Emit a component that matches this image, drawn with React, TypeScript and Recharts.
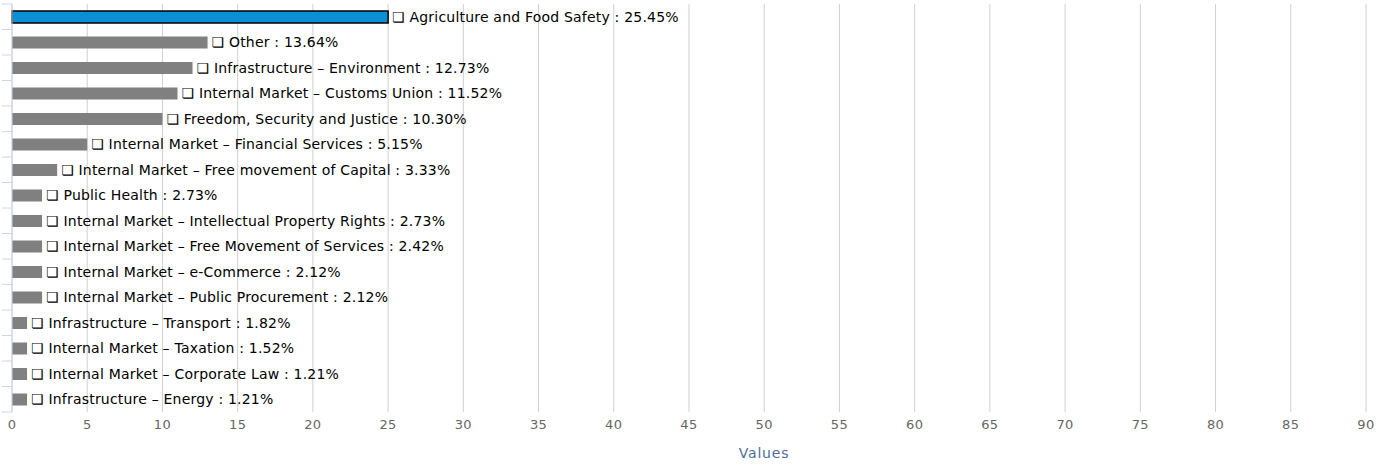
import { BarChart, Bar, XAxis, YAxis, CartesianGrid, LabelList, Cell } from "recharts";

const categories = [
  "Agriculture and Food Safety",
  "Other",
  "Infrastructure - Environment",
  "Internal Market - Customs Union",
  "Freedom, Security and Justice",
  "Internal Market - Financial Services",
  "Internal Market - Free movement of Capital",
  "Public Health",
  "Internal Market - Intellectual Property Rights",
  "Internal Market - Free Movement of Services",
  "Internal Market - e-Commerce",
  "Internal Market - Public Procurement",
  "Infrastructure - Transport",
  "Internal Market - Taxation",
  "Internal Market - Corporate Law",
  "Infrastructure - Energy",
];

// bar lengths as drawn
const values = [25, 13, 12, 11, 10, 5, 3, 2, 2, 2, 2, 2, 1, 1, 1, 1];

// shares shown in the labels
const shares = [
  "25.45%", "13.64%", "12.73%", "11.52%", "10.30%", "5.15%", "3.33%", "2.73%",
  "2.73%", "2.42%", "2.12%", "2.12%", "1.82%", "1.52%", "1.21%", "1.21%",
];

const xTicks = [0, 5, 10, 15, 20, 25, 30, 35, 40, 45, 50, 55, 60, 65, 70, 75, 80, 85, 90];

const data = categories.map((name, i) => ({
  name,
  value: values[i],
  label: `\u274F ${name.replace(/ - /g, " \u2013 ")} : ${shares[i]}`,
}));

const W = 1391;
const H = 464;
const TOP = 4;
const XAXIS_H = 52;
const BAND = (H - TOP - XAXIS_H) / categories.length;

const FONT = "'DejaVu Sans', sans-serif";

function BoundaryTick(props: any) {
  const { y, index } = props;
  const last = index === categories.length - 1;
  return (
    <g>
      <line x1={2} x2={12} y1={y - BAND / 2} y2={y - BAND / 2} stroke="#ccd6eb" />
      {last && <line x1={2} x2={12} y1={y + BAND / 2} y2={y + BAND / 2} stroke="#ccd6eb" />}
    </g>
  );
}

export default function App() {
  return (
    <div style={{ position: "absolute", left: 0, top: 0, fontFamily: FONT }}>
      <BarChart
        width={W}
        height={H}
        data={data}
        layout="vertical"
        margin={{ top: TOP, right: 25, left: 0, bottom: 0 }}
        barCategoryGap={0}
      >
        <CartesianGrid horizontal={false} vertical stroke="#d0d0d0" />
        <XAxis
          type="number"
          domain={[0, 90]}
          ticks={xTicks}
          interval={0}
          axisLine={false}
          tickLine={false}
          height={XAXIS_H}
          tick={{ fill: "#666666", fontSize: 13, fontFamily: FONT, letterSpacing: 0.4 }}
          tickMargin={2}
          label={{
            value: "Values",
            position: "insideBottom",
            offset: 6,
            dx: 75,
            fill: "#4d6f9a",
            fontSize: 14,
            fontFamily: FONT,
            letterSpacing: 0.8,
          }}
        />
        <YAxis
          type="category"
          dataKey="name"
          width={12}
          axisLine={{ stroke: "#ccd6eb" }}
          tickLine={false}
          tick={<BoundaryTick />}
          interval={0}
        />
        <Bar dataKey="value" barSize={12} isAnimationActive={false}>
          {data.map((d, i) => (
            <Cell
              key={d.name}
              fill={i === 0 ? "#0a8fd6" : "#808080"}
              stroke={i === 0 ? "#000000" : "none"}
              strokeWidth={i === 0 ? 1.5 : 0}
            />
          ))}
          <LabelList
            dataKey="label"
            position="right"
            offset={4}
            fill="#000000"
            fontSize={14}
            fontFamily={FONT}
            style={{ letterSpacing: 0.2 }}
          />
        </Bar>
      </BarChart>
    </div>
  );
}
